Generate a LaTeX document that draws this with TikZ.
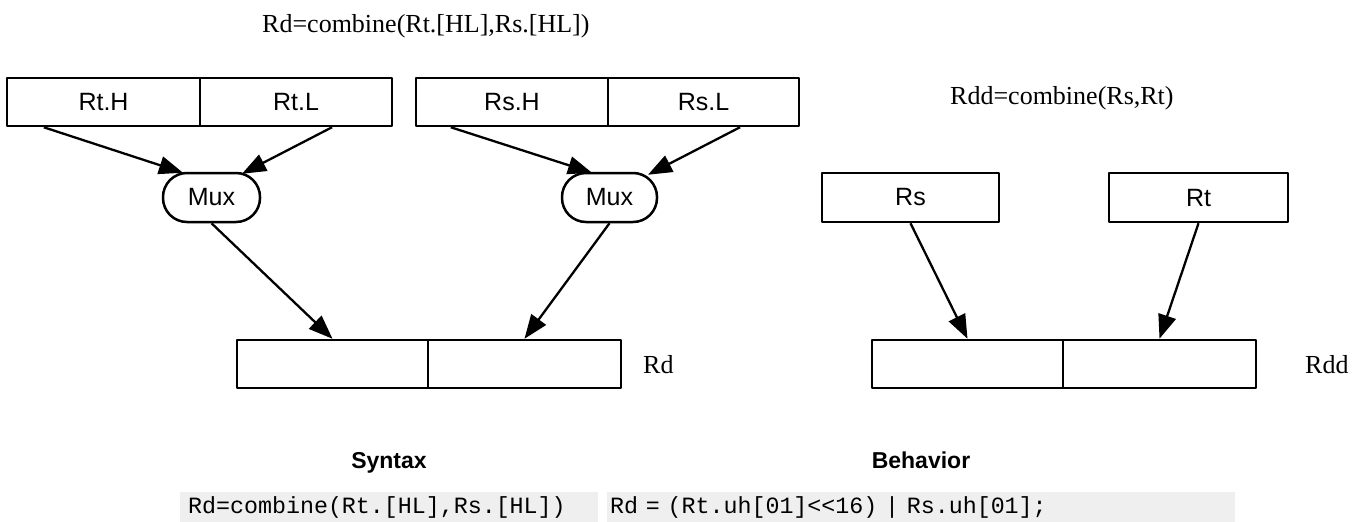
\documentclass[tikz,border=0pt]{standalone}
\usepackage{fontspec}
\setmainfont{Liberation Serif}
\setsansfont{Liberation Sans}
\setmonofont{Liberation Mono}
\usetikzlibrary{arrows.meta}
\definecolor{codegray}{HTML}{EFEFEF}
\begin{document}
\begin{tikzpicture}[x=1pt,y=-1pt,
  reg/.style={draw,line width=2.5pt,line join=round,minimum height=48pt,inner sep=0pt,font=\sffamily\fontsize{25}{30}\selectfont},
  muxbox/.style={draw,line width=2.5pt,rounded corners=24pt,minimum height=49pt,inner sep=0pt,font=\sffamily\fontsize{25}{30}\selectfont},
  arr/.style={line width=2.3pt,-{Triangle[length=24pt,width=18pt]}},
  lbl/.style={font=\fontsize{26}{30}\selectfont,inner sep=0pt},
  head/.style={font=\sffamily\bfseries\fontsize{23}{28}\selectfont,inner sep=0pt,anchor=base},
  codebox/.style={fill=codegray,minimum height=30pt,inner ysep=0pt,anchor=north west,align=left,text height=17pt,text depth=5pt,font=\ttfamily\fontsize{23.3}{28}\selectfont}
]
\useasboundingbox (0,0) rectangle (1366,522);

% title labels
\node[lbl,anchor=base west] (t1) at (262,32) {Rd=combine(Rt.[HL],Rs.[HL])};
\node[lbl,anchor=base west] (t2) at (950,104) {Rdd=combine(Rs,Rt)};

% source registers
\node[reg,minimum width=193pt] (rth) at (103.5,102) {Rt.H};
\node[reg,minimum width=192pt] (rtl) at (296,102) {Rt.L};
\node[reg,minimum width=192pt] (rsh) at (512,102) {Rs.H};
\node[reg,minimum width=191pt] (rsl) at (703.5,102) {Rs.L};

% muxes
\node[muxbox,minimum width=97pt] (mux1) at (211.5,197.5) {Mux};
\node[muxbox,minimum width=95pt] (mux2) at (609.5,197.5) {Mux};

% Rd
\node[reg,minimum width=191pt] (rdl) at (332.5,364) {};
\node[reg,minimum width=193pt] (rdr) at (524.5,364) {};
\node[lbl,anchor=base west] (rdlab) at (643,373) {Rd};

% right part
\node[reg,minimum width=177pt,minimum height=49pt] (rs) at (910.5,197.5) {Rs};
\node[reg,minimum width=179pt,minimum height=49pt] (rt) at (1198.5,197.5) {Rt};
\node[reg,minimum width=191pt] (rddl) at (967.5,364) {};
\node[reg,minimum width=193pt] (rddr) at (1159.5,364) {};
\node[lbl,anchor=base west] (rddlab) at (1305,373) {Rdd};

% arrows
\draw[arr] ([xshift=38pt]rth.south west) -- ([xshift=-28.5pt,yshift=-1pt]mux1.north);
\draw[arr] ([xshift=36pt]rtl.south) -- ([xshift=30.5pt,yshift=-2pt]mux1.north);
\draw[arr] ([xshift=36pt]rsh.south west) -- ([xshift=-17.5pt,yshift=-1pt]mux2.north);
\draw[arr] ([xshift=36.5pt]rsl.south) -- ([xshift=38.5pt,yshift=-3pt]mux2.north);
\draw[arr] (mux1.south) -- (rdl.north);
\draw[arr] (mux2.south) -- (rdr.north);
\draw[arr] (rs.south) -- (rddl.north);
\draw[arr] (rt.south) -- (rddr.north);

% table
\node[head] (syn) at (389,468) {Syntax};
\node[head] (beh) at (921,468) {Behavior};
\node[codebox,text width=402pt,inner xsep=8pt] (c1) at (180,492) {Rd=combine(Rt.[HL],Rs.[HL])};
\node[codebox,text width=622pt,inner xsep=3pt] (c2) at (607,492) {Rd = (Rt.uh[01]\textless\textless16) | Rs.uh[01];};
\end{tikzpicture}
\end{document}
